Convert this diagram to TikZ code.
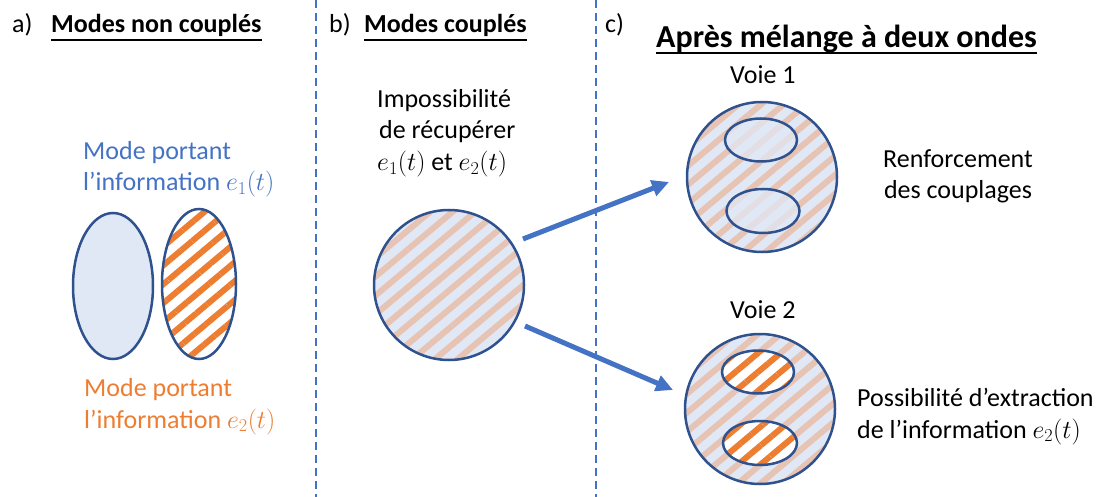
\documentclass[tikz,border=0pt]{standalone}
\usepackage{fix-cm}
\usepackage{fontspec}
\setmainfont{Carlito}
\usetikzlibrary{patterns.meta,arrows.meta,shapes.geometric}
\definecolor{lineblue}{HTML}{4472C4}
\definecolor{darkblue}{HTML}{2F528F}
\definecolor{paleblue}{HTML}{E1E8F5}
\definecolor{peach}{HTML}{E6C3B3}
\definecolor{orng}{HTML}{ED7D31}
\begin{document}
\begin{tikzpicture}[x=1pt,y=-1pt,
  txt/.style={inner sep=0pt, anchor=base west, font=\fontsize{26}{31}\selectfont},
  txtc/.style={inner sep=0pt, anchor=base, font=\fontsize{26}{31}\selectfont},
  hdr/.style={inner sep=0pt, anchor=base west, font=\fontsize{26}{31}\selectfont\bfseries},
  ttl/.style={inner sep=0pt, anchor=base west, font=\fontsize{32}{38}\selectfont\bfseries},
  uline/.style={line width=1.8pt, black},
  divider/.style={lineblue, line width=2pt, dash pattern=on 8pt off 5pt},
  modeline/.style={draw=darkblue, line width=2.5pt},
  plainmode/.style={modeline, fill=paleblue},
  orangemode/.style={modeline, preaction={fill=white},
     pattern={Lines[angle=40,distance=14.5pt,line width=6pt]}, pattern color=orng},
  mixmode/.style={modeline, preaction={fill=paleblue},
     pattern={Lines[angle=40,distance=14.5pt,line width=6pt]}, pattern color=peach},
  bigcirc/.style={circle, inner sep=0pt, minimum size=150pt},
  inellipse/.style={ellipse, inner sep=0pt, minimum width=72pt, minimum height=43pt},
  bigarrow/.style={lineblue, line width=5pt, -{Triangle[length=17pt,width=16pt]}}
]
\useasboundingbox (0,0) rectangle (1108,497);

% dividers
\coordinate (d1t) at (316,0); \coordinate (d1b) at (316,497);
\coordinate (d2t) at (596,0); \coordinate (d2b) at (596,497);
\draw[divider] (d1t) -- (d1b);
\draw[divider] (d2t) -- (d2b);

% headers
\node[txt] (la) at (12,33) {a)};
\node[hdr] (ha) at (51,33) {Modes non couplés};
\draw[uline] ([yshift=-7pt]ha.base west) -- ([yshift=-7pt]ha.base east);
\node[txt] (lb) at (329,33) {b)};
\node[hdr] (hb) at (364,33) {Modes couplés};
\draw[uline] ([yshift=-7pt]hb.base west) -- ([yshift=-7pt]hb.base east);
\node[txt] (lc) at (605,33) {c)};
\node[ttl] (hc) at (656,48) {Après mélange à deux ondes};
\draw[uline, line width=2.2pt] ([yshift=-5pt]hc.base west) -- ([yshift=-5pt]hc.base east);

% panel a
\node[txt, text=lineblue] (t1a) at (83,160) {Mode portant};
\node[txt, text=lineblue] (t1b) at (83,191) {l’information $e_1(t)$};
\node[txt, text=orng] (t2a) at (84,396) {Mode portant};
\node[txt, text=orng] (t2b) at (84,428) {l’information $e_2(t)$};
\draw[plainmode] (113,286) ellipse [x radius=40, y radius=73];
\draw[orangemode] (199,284) ellipse [x radius=37, y radius=75];

% panel b
\node[txt] (tb1) at (377,108) {Impossibilité};
\node[txt] (tb2) at (379,139) {de récupérer};
\node[txt] (tb3) at (377,171) {$e_1(t)$ et $e_2(t)$};
\node[bigcirc, mixmode] (cb) at (449,285) {};

% panel c
\node[txt] (v1) at (730,84) {Voie 1};
\node[bigcirc, mixmode] (c1) at (762,177) {};
\node[inellipse, modeline, fill=paleblue, fill opacity=0.75] (e1a) at (761,140) {};
\node[inellipse, modeline, fill=paleblue, fill opacity=0.75, minimum width=73pt, minimum height=44pt] (e1b) at (763,211) {};
\node[txtc] (r1) at (958,168) {Renforcement};
\node[txtc] (r2) at (958,199) {des couplages};

\node[txt] (v2) at (730,318) {Voie 2};
\node[bigcirc, mixmode] (c2) at (760,409) {};
\node[inellipse, orangemode] (e2a) at (758,372) {};
\node[inellipse, orangemode, minimum width=74pt, minimum height=44pt] (e2b) at (760,443) {};
\node[txt] (p1) at (857,406) {Possibilité d’extraction};
\node[txt] (p2) at (857,438) {de l’information $e_2(t)$};

% arrows
\coordinate (a1s) at (523,239); \coordinate (a1e) at (669,182);
\coordinate (a2s) at (525,326); \coordinate (a2e) at (673,390);
\draw[bigarrow] (a1s) -- (a1e);
\draw[bigarrow] (a2s) -- (a2e);
\end{tikzpicture}
\end{document}
